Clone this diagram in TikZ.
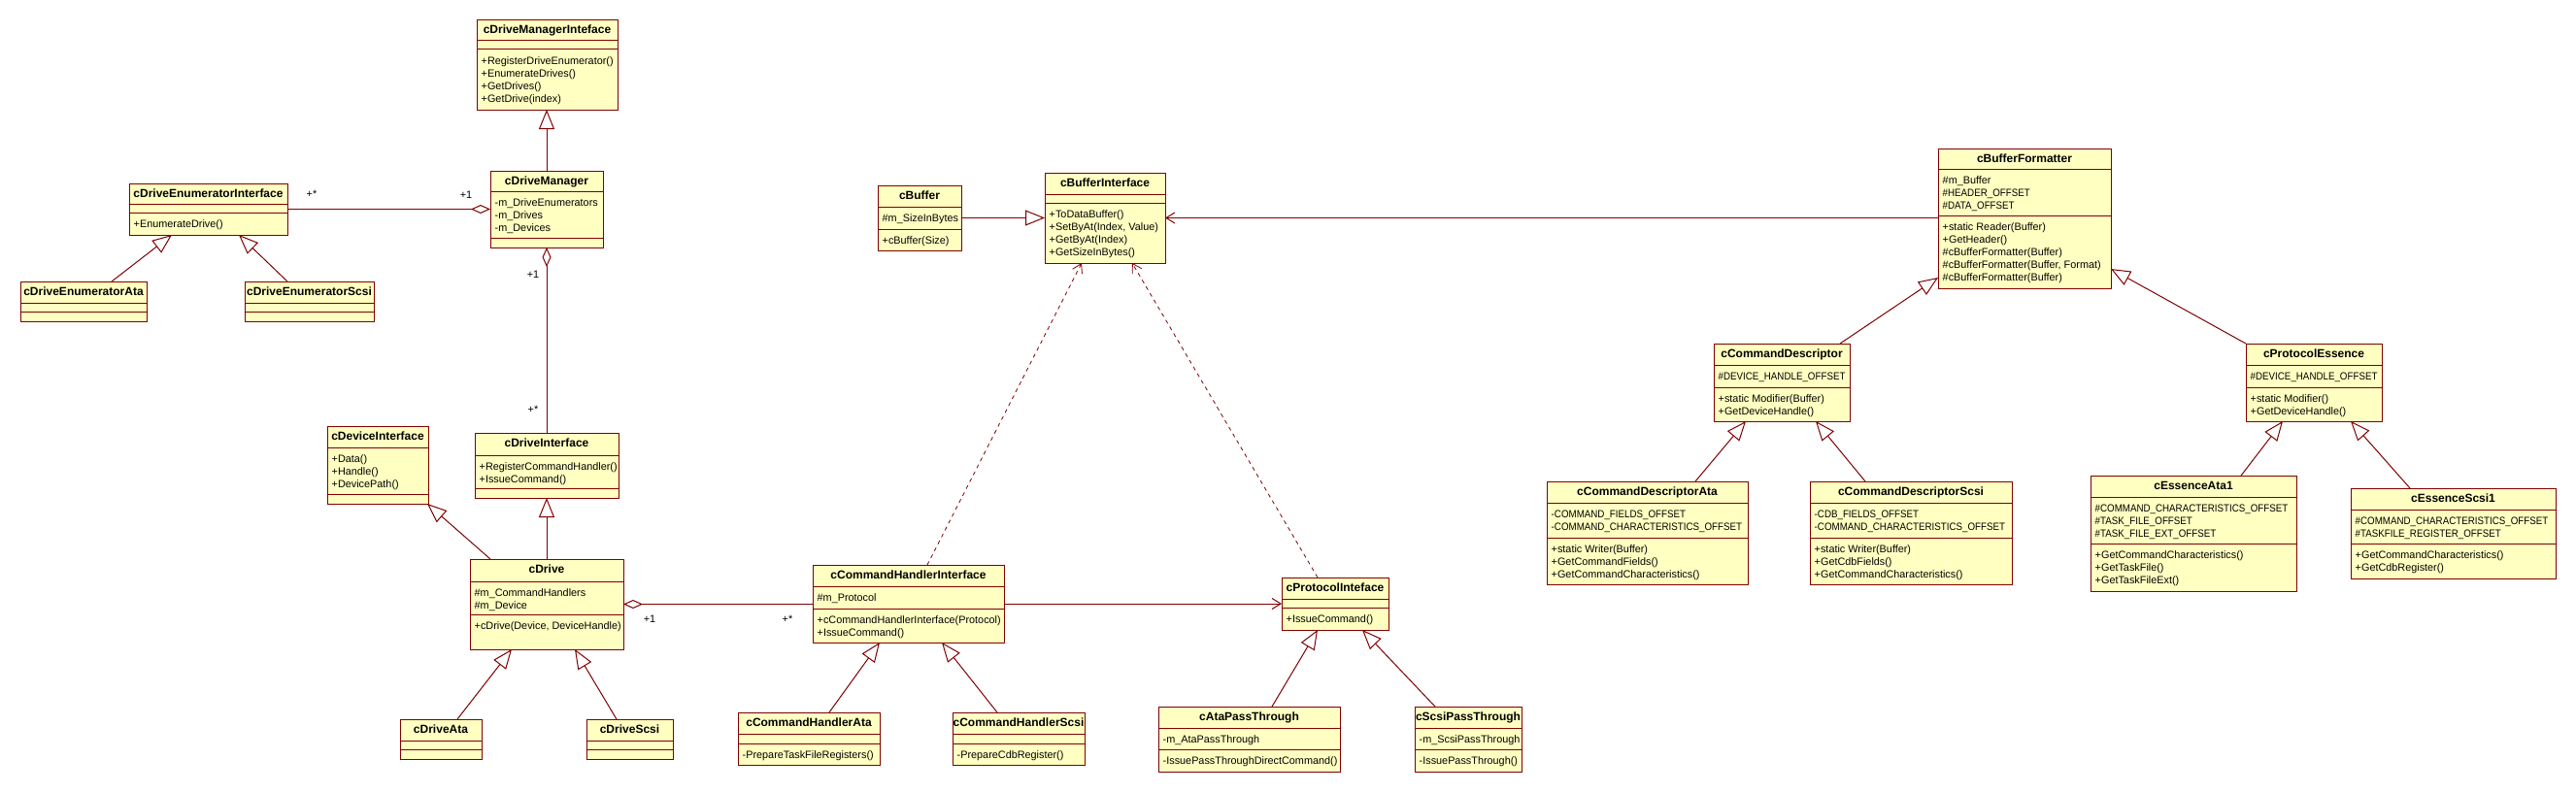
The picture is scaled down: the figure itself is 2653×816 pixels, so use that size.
\documentclass[tikz,border=0pt]{standalone}
\usepackage{fontspec}
\setmainfont{Liberation Sans}
\usetikzlibrary{arrows.meta,calc}
\definecolor{umlline}{RGB}{128,0,0}
\definecolor{umlfill}{RGB}{255,255,194}
\newcommand{\cond}[1]{\scalebox{0.9}[1]{#1}}
\tikzset{
  clsbox/.style={rectangle, draw=umlline, fill=umlfill, line width=1pt, inner sep=0pt, outer sep=0pt},
  clsline/.style={draw=umlline, line width=1pt},
  clsname/.style={anchor=base, inner sep=0pt, font=\fontsize{12}{14}\bfseries\selectfont},
  clsmem/.style={anchor=north west, inner sep=0pt, font=\fontsize{10.85}{13}\selectfont},
  mult/.style={inner sep=0pt, font=\fontsize{10.85}{13}\selectfont},
  conn/.style={draw=umlline, line width=1pt},
  gen/.style={conn, -{Triangle[open,length=20pt,width=16pt]}},
  agg/.style={conn, {Diamond[open,length=20pt,width=9pt]}-},
  nav/.style={conn, -{Straight Barb[length=9pt,width=11pt]}},
  dep/.style={draw=umlline, line width=0.8pt, dash pattern=on 4pt off 4pt, -{Straight Barb[length=9pt,width=11pt]}}
}
\newcommand{\umlcls}[9]{%
  \node[clsbox, minimum width={(#4-#2)*1pt}, minimum height={(#5-#3)*1pt}] (#1) at ({(#2+#4)/2},{(#3+#5)/2}) {};
  \draw[clsline] (#2,#6) -- (#4,#6);
  \draw[clsline] (#2,#7) -- (#4,#7);
  \node[clsname] (#1-name) at ({(#2+#4)/2},{#3+14}) {#1};
  \node[clsmem] (#1-attr) at ({#2+4.5},{#6+6}) {\begin{tabular}{@{}l@{}}#8\end{tabular}};
  \node[clsmem] (#1-ops) at ({#2+4.5},{#7+6}) {\begin{tabular}{@{}l@{}}#9\end{tabular}};
}
\begin{document}
\begin{tikzpicture}[x=1pt,y=-1pt]
\fill[white] (0,0) rectangle (2653,816);
\useasboundingbox (0,0) rectangle (2653,816);

% ---- classes ----
\umlcls{cDriveManagerInteface}{491}{21}{636}{113}{42}{51}{}{+RegisterDriveEnumerator()\\+EnumerateDrives()\\+GetDrives()\\+GetDrive(index)}
\umlcls{cDriveManager}{505}{176}{621}{255}{197}{245}{-m\_DriveEnumerators\\-m\_Drives\\-m\_Devices}{}
\umlcls{cDriveEnumeratorInterface}{133}{189}{296}{242}{210}{219}{}{+EnumerateDrive()}
\umlcls{cDriveEnumeratorAta}{21}{290}{151}{331}{312}{321}{}{}
\umlcls{cDriveEnumeratorScsi}{252}{290}{385}{331}{312}{321}{}{}
\umlcls{cDeviceInterface}{337}{439}{441}{519}{461}{509}{+Data()\\+Handle()\\+DevicePath()}{}
\umlcls{cDriveInterface}{489}{446}{637}{513}{469}{503}{+RegisterCommandHandler()\\+IssueCommand()}{}
\umlcls{cDrive}{484}{576}{642}{669}{599}{633}{\#m\_CommandHandlers\\\#m\_Device}{+cDrive(Device, DeviceHandle)}
\umlcls{cDriveAta}{412}{741}{496}{782}{763}{772}{}{}
\umlcls{cDriveScsi}{604}{741}{693}{782}{763}{772}{}{}
\umlcls{cBuffer}{904}{191}{990}{258}{213}{236}{\#m\_SizeInBytes}{+cBuffer(Size)}
\umlcls{cBufferInterface}{1076}{178}{1200}{271}{200}{209}{}{+ToDataBuffer()\\+SetByAt(Index, Value)\\+GetByAt(Index)\\+GetSizeInBytes()}
\umlcls{cBufferFormatter}{1996}{153}{2174}{297}{174}{222}{\#m\_Buffer\\\cond{\#HEADER\_OFFSET}\\\cond{\#DATA\_OFFSET}}{+static Reader(Buffer)\\+GetHeader()\\\#cBufferFormatter(Buffer)\\\#cBufferFormatter(Buffer, Format)\\\#cBufferFormatter(Buffer)}
\umlcls{cCommandHandlerInterface}{837}{582}{1034}{662}{604}{627}{\#m\_Protocol}{+cCommandHandlerInterface(Protocol)\\+IssueCommand()}
\umlcls{cProtocolInteface}{1320}{595}{1430}{649}{617}{626}{}{+IssueCommand()}
\umlcls{cCommandHandlerAta}{760}{734}{906}{788}{756}{766}{}{-PrepareTaskFileRegisters()}
\umlcls{cCommandHandlerScsi}{981}{734}{1117}{788}{756}{766}{}{-PrepareCdbRegister()}
\umlcls{cAtaPassThrough}{1193}{728}{1380}{795}{750}{772}{-m\_AtaPassThrough}{-IssuePassThroughDirectCommand()}
\umlcls{cScsiPassThrough}{1457}{728}{1567}{795}{750}{772}{-m\_ScsiPassThrough}{-IssuePassThrough()}
\umlcls{cCommandDescriptor}{1765}{354}{1905}{434}{376}{399}{\cond{\#DEVICE\_HANDLE\_OFFSET}}{+static Modifier(Buffer)\\+GetDeviceHandle()}
\umlcls{cProtocolEssence}{2313}{354}{2453}{434}{376}{399}{\cond{\#DEVICE\_HANDLE\_OFFSET}}{+static Modifier()\\+GetDeviceHandle()}
\umlcls{cCommandDescriptorAta}{1593}{496}{1800}{602}{518}{554}{\cond{-COMMAND\_FIELDS\_OFFSET}\\\cond{-COMMAND\_CHARACTERISTICS\_OFFSET}}{+static Writer(Buffer)\\+GetCommandFields()\\+GetCommandCharacteristics()}
\umlcls{cCommandDescriptorScsi}{1864}{496}{2072}{602}{518}{554}{\cond{-CDB\_FIELDS\_OFFSET}\\\cond{-COMMAND\_CHARACTERISTICS\_OFFSET}}{+static Writer(Buffer)\\+GetCdbFields()\\+GetCommandCharacteristics()}
\umlcls{cEssenceAta1}{2153}{490}{2365}{609}{512}{560}{\cond{\#COMMAND\_CHARACTERISTICS\_OFFSET}\\\cond{\#TASK\_FILE\_OFFSET}\\\cond{\#TASK\_FILE\_EXT\_OFFSET}}{+GetCommandCharacteristics()\\+GetTaskFile()\\+GetTaskFileExt()}
\umlcls{cEssenceScsi1}{2421}{503}{2632}{596}{525}{560}{\cond{\#COMMAND\_CHARACTERISTICS\_OFFSET}\\\cond{\#TASKFILE\_REGISTER\_OFFSET}}{+GetCommandCharacteristics()\\+GetCdbRegister()}

% ---- generalizations ----
\draw[gen] (cDriveManager.north) -- (cDriveManager.north |- cDriveManagerInteface.south);
\draw[gen] ($(cDriveEnumeratorAta.north west)+(94,0)$) -- ($(cDriveEnumeratorInterface.south west)+(44,0)$);
\draw[gen] ($(cDriveEnumeratorScsi.north west)+(44,0)$) -- ($(cDriveEnumeratorInterface.south west)+(113,0)$);
\draw[gen] (cDrive.north) -- (cDrive.north |- cDriveInterface.south);
\draw[gen] ($(cDrive.north west)+(21,0)$) -- ($(cDeviceInterface.south east)+(-1,0)$);
\draw[gen] ($(cDriveAta.north west)+(59,0)$) -- ($(cDrive.south west)+(43,0)$);
\draw[gen] ($(cDriveScsi.north west)+(31,0)$) -- ($(cDrive.south west)+(108,0)$);
\draw[gen] (cBuffer.east) -- (cBuffer.east -| cBufferInterface.west);
\draw[gen] ($(cCommandHandlerAta.north west)+(94,0)$) -- ($(cCommandHandlerInterface.south west)+(69,0)$);
\draw[gen] ($(cCommandHandlerScsi.north west)+(46,0)$) -- ($(cCommandHandlerInterface.south west)+(133,0)$);
\draw[gen] ($(cAtaPassThrough.north west)+(117,0)$) -- ($(cProtocolInteface.south west)+(37,0)$);
\draw[gen] ($(cScsiPassThrough.north west)+(21,0)$) -- ($(cProtocolInteface.south west)+(83,0)$);
\draw[gen] ($(cCommandDescriptor.north west)+(130,0)$) -- ($(cBufferFormatter.south west)+(0,-11)$);
\draw[gen] (cProtocolEssence.north west) -- ($(cBufferFormatter.south east)+(0,-20)$);
\draw[gen] ($(cCommandDescriptorAta.north west)+(153,0)$) -- ($(cCommandDescriptor.south west)+(33,0)$);
\draw[gen] ($(cCommandDescriptorScsi.north west)+(57,0)$) -- ($(cCommandDescriptor.south west)+(105,0)$);
\draw[gen] ($(cEssenceAta1.north west)+(155,0)$) -- ($(cProtocolEssence.south west)+(38,0)$);
\draw[gen] ($(cEssenceScsi1.north west)+(61,0)$) -- ($(cProtocolEssence.south west)+(108,0)$);

% ---- associations ----
\draw[agg] (cDriveManager.west |- cDriveEnumeratorInterface.east) -- (cDriveEnumeratorInterface.east);
\draw[agg] (cDriveManager.south) -- (cDriveManager.south |- cDriveInterface.north);
\draw[agg] (cDrive.east) -- (cDrive.east -| cCommandHandlerInterface.west);
\draw[nav] (cCommandHandlerInterface.east) -- (cCommandHandlerInterface.east -| cProtocolInteface.west);
\draw[nav] (cBufferFormatter.west |- cBuffer.east) -- (cBufferInterface.east |- cBuffer.east);

% ---- dependencies ----
\draw[dep] ($(cCommandHandlerInterface.north west)+(118,0)$) -- ($(cBufferInterface.south west)+(38,0)$);
\draw[dep] ($(cProtocolInteface.north west)+(37,0)$) -- ($(cBufferInterface.south west)+(90,0)$);

% ---- multiplicities ----
\node[mult] (m1) at (321,200) {+*};
\node[mult] (m2) at (480,201) {+1};
\node[mult] (m3) at (549,283) {+1};
\node[mult] (m4) at (549,422) {+*};
\node[mult] (m5) at (669,638) {+1};
\node[mult] (m6) at (811,638) {+*};
\end{tikzpicture}
\end{document}
